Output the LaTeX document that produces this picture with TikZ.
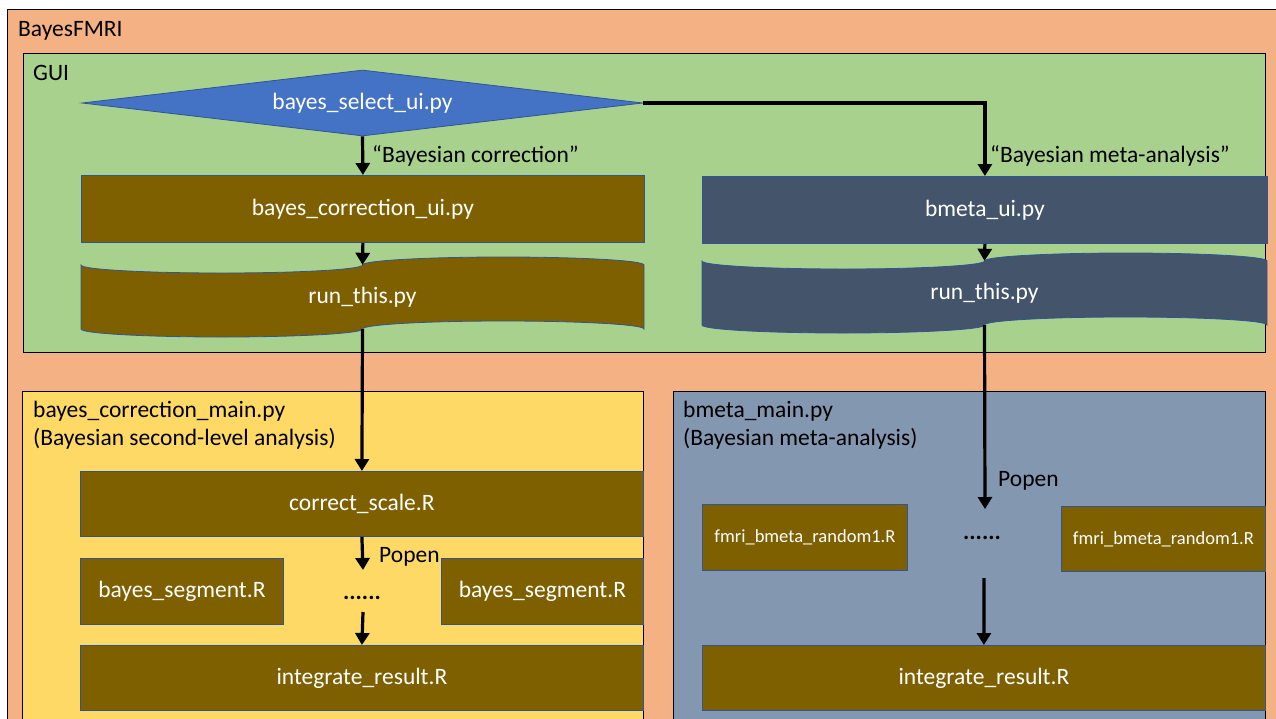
\documentclass[tikz,border=0pt]{standalone}
\usepackage{fontspec}
\setmainfont{Carlito}
\usetikzlibrary{shapes.geometric,arrows.meta}

\definecolor{bgorange}{HTML}{F4B183}
\definecolor{guigreen}{HTML}{A9D18E}
\definecolor{selblue}{HTML}{4472C4}
\definecolor{olivebrown}{HTML}{7F6000}
\definecolor{slate}{HTML}{44546A}
\definecolor{paleyellow}{HTML}{FFD966}
\definecolor{greyblue}{HTML}{8497B0}
\definecolor{edgeblue}{HTML}{2F5597}

\tikzset{
  panel/.style={draw=black, line width=1pt},
  bigtxt/.style={font=\fontsize{23.5}{28}\selectfont},
  smalltxt/.style={font=\fontsize{18.5}{22}\selectfont},
  filebox/.style={draw=edgeblue, line width=0.8pt, fill=olivebrown, text=white,
                  inner sep=0pt, anchor=north west, bigtxt},
  label/.style={inner sep=0pt, anchor=base west, bigtxt},
  conn/.style={line width=3.2pt, -{Triangle[length=12pt,width=14pt]}},
}

% punched-tape outline: left, top, width, height, fill colour
\newcommand\punchtape[5]{%
  \pgfmathsetmacro\pq{#3/4}%
  \pgfmathsetmacro\pa{#4/10}%
  \pgfmathsetmacro\pk{0.5523}%
  \begin{scope}[shift={(#1,#2)}]
    \filldraw[draw=edgeblue, line width=0.8pt, fill=#5]
      (0,\pa) .. controls (0,\pa+\pk*\pa) and (\pq-\pk*\pq,2*\pa) .. (\pq,2*\pa)
      .. controls (\pq+\pk*\pq,2*\pa) and (2*\pq,\pa+\pk*\pa) .. (2*\pq,\pa)
      .. controls (2*\pq,\pa-\pk*\pa) and (3*\pq-\pk*\pq,0) .. (3*\pq,0)
      .. controls (3*\pq+\pk*\pq,0) and (4*\pq,\pa-\pk*\pa) .. (4*\pq,\pa)
      -- (4*\pq,#4-\pa)
      .. controls (4*\pq,#4-\pa-\pk*\pa) and (3*\pq+\pk*\pq,#4-2*\pa) .. (3*\pq,#4-2*\pa)
      .. controls (3*\pq-\pk*\pq,#4-2*\pa) and (2*\pq,#4-\pa-\pk*\pa) .. (2*\pq,#4-\pa)
      .. controls (2*\pq,#4-\pa+\pk*\pa) and (\pq+\pk*\pq,#4) .. (\pq,#4)
      .. controls (\pq-\pk*\pq,#4) and (0,#4-\pa+\pk*\pa) .. (0,#4-\pa)
      -- cycle;
  \end{scope}}

\begin{document}
\begin{tikzpicture}[x=1pt, y=-1pt]
  \useasboundingbox (0,0) rectangle (1276,718);
  \clip (0,0) rectangle (1276,718);
  \fill[white] (0,0) rectangle (1276,718);

  % outer frame
  \filldraw[panel, fill=bgorange] (7,9) rectangle (1284,730);
  \node[label] (title) at (18,36) {BayesFMRI};

  % GUI frame
  \filldraw[panel, fill=guigreen] (23,53) rectangle (1265,352);
  \node[label] (guilbl) at (33,80) {GUI};

  \node[diamond, shape aspect=8.5, draw=edgeblue, line width=0.8pt, fill=selblue, text=white, inner sep=0pt,
        minimum width=561pt, minimum height=66pt, bigtxt] (sel) at (362.5,103) {bayes\_select\_ui.py};

  \node[filebox, minimum width=563pt, minimum height=67pt] (corrui) at (81,175) {bayes\_correction\_ui.py};
  \node[filebox, fill=slate, minimum width=565pt, minimum height=67pt] (bmetaui) at (702,176) {bmeta\_ui.py};

  \punchtape{81}{257}{563}{80}{olivebrown}
  \node[inner sep=0pt, minimum width=563pt, minimum height=64pt, text=white, bigtxt] (runL) at (362.5,297) {run\_this.py};
  \punchtape{702}{253}{565}{80}{slate}
  \node[inner sep=0pt, minimum width=565pt, minimum height=64pt, text=white, bigtxt] (runR) at (984.5,293) {run\_this.py};

  % second-level analysis panel
  \filldraw[panel, fill=paleyellow] (22,391) rectangle (643,730);
  \node[label] (corrmain) at (33,417) {bayes\_correction\_main.py};
  \node[label] (corrsub) at (33,445.5) {(Bayesian second-level analysis)};

  \node[filebox, minimum width=563pt, minimum height=65pt] (scale) at (80,471) {correct\_scale.R};
  \node[filebox, minimum width=203pt, minimum height=66pt] (segA) at (80,558) {bayes\_segment.R};
  \node[filebox, minimum width=202pt, minimum height=66pt] (segB) at (441,558) {bayes\_segment.R};
  \node[inner sep=0pt, anchor=base, bigtxt] (dotsL) at (362,599) {\textbf{......}};
  \node[filebox, minimum width=563pt, minimum height=65pt] (intL) at (80,645) {integrate\_result.R};

  % meta-analysis panel
  \filldraw[panel, fill=greyblue] (673,391) rectangle (1265,730);
  \node[label] (metamain) at (683,417) {bmeta\_main.py};
  \node[label] (metasub) at (683,445.5) {(Bayesian meta-analysis)};

  \node[filebox, smalltxt, minimum width=205pt, minimum height=66pt] (rndA) at (702,504) {fmri\_bmeta\_random1.R};
  \node[filebox, smalltxt, minimum width=204pt, minimum height=65pt] (rndB) at (1061,506) {fmri\_bmeta\_random1.R};
  \node[inner sep=0pt, anchor=base, bigtxt] (dotsR) at (982,539) {\textbf{......}};
  \node[filebox, minimum width=563pt, minimum height=65pt] (intR) at (702,645) {integrate\_result.R};

  % free ends of the Popen arrows
  \coordinate (popL) at (363,570);
  \coordinate (joinL) at (363,612);
  \coordinate (popR) at (985,509);
  \coordinate (joinR) at (984,578);

  % connectors
  \draw[conn] (sel.south) -- (corrui.north);
  \draw[conn] (sel.east) -| (bmetaui.north);
  \draw[conn] (corrui.south) -- (runL.north);
  \draw[conn] (bmetaui.south) -- (runR.north);
  \draw[conn] (runL.south) -- (scale.north);
  \draw[conn] (scale.south) -- (popL);
  \draw[conn] (joinL) -- (intL.north);
  \draw[conn] (runR.south) -- (popR);
  \draw[conn] (joinR) -- (intR.north);

  % connector labels
  \node[label] (lblcorr) at (372,162) {“Bayesian correction”};
  \node[label] (lblmeta) at (990,162) {“Bayesian meta-analysis”};
  \node[label] (popenL) at (379,562) {Popen};
  \node[label] (popenR) at (998,486) {Popen};
\end{tikzpicture}
\end{document}
